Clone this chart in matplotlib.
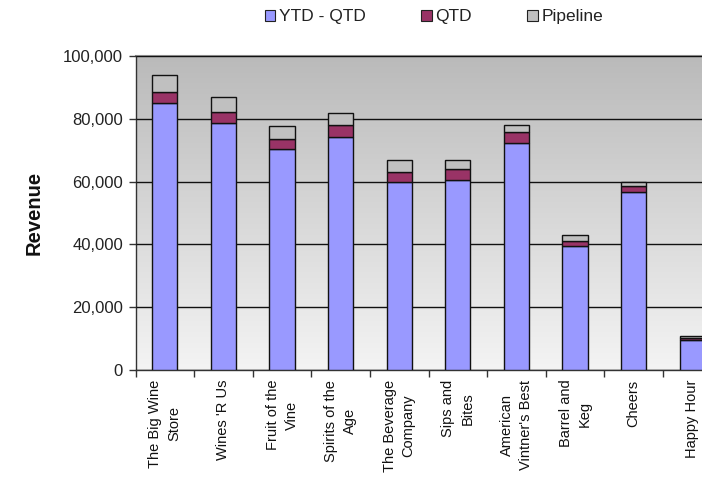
import numpy as np
import matplotlib
matplotlib.use("Agg")
import matplotlib.pyplot as plt
from matplotlib.patches import Patch

plt.rcParams['font.family'] = ['Liberation Sans', 'DejaVu Sans']

# Revenue per customer, stacked
customers = ["The Big Wine\nStore", "Wines 'R Us", "Fruit of the\nVine",
             "Spirits of the\nAge", "The Beverage\nCompany", "Sips and\nBites",
             "American\nVintner's Best", "Barrel and\nKeg", "Cheers", "Happy Hour"]
ytd_minus_qtd = [85100, 78600, 70500, 74300, 60000, 60500, 72200, 39600, 56700, 9600]
qtd = [3300, 3600, 3000, 3700, 3000, 3400, 3500, 1400, 1800, 700]
pipeline = [5500, 4600, 4200, 3900, 3900, 2900, 2300, 2000, 1500, 600]
series_names = ["YTD - QTD", "QTD", "Pipeline"]
colors = ["#9999FF", "#993366", "#C0C0C0"]
y_ticks = [0, 20000, 40000, 60000, 80000, 100000]

W, H = 702, 492
fig = plt.figure(figsize=(W / 100, H / 100), dpi=100)
left, right, top, bottom = 135.5, 721.5, 56, 370
ax = fig.add_axes([left / W, 1 - bottom / H, (right - left) / W, (bottom - top) / H])

# vertical gray gradient behind the plot
grad = np.linspace(0, 1, 256).reshape(-1, 1)
cmap = matplotlib.colors.LinearSegmentedColormap.from_list("bg", ["#f4f4f4", "#bababa"])
ax.imshow(grad, aspect="auto", cmap=cmap, extent=[0, 1, 0, 1], origin="lower",
          transform=ax.transAxes, zorder=0)

x = np.arange(len(customers))
w = 0.43
b1 = np.array(ytd_minus_qtd)
b2 = b1 + np.array(qtd)
ax.bar(x, ytd_minus_qtd, w, color=colors[0], edgecolor="#111111", linewidth=1.0, zorder=3)
ax.bar(x, qtd, w, bottom=b1, color=colors[1], edgecolor="#111111", linewidth=1.0, zorder=3)
ax.bar(x, pipeline, w, bottom=b2, color=colors[2], edgecolor="#111111", linewidth=1.0, zorder=3)

ax.set_xlim(-0.5, len(customers) - 0.5)
ax.set_ylim(0, 100000)
ax.set_yticks(y_ticks)
ax.set_yticklabels([f"{v:,}" for v in y_ticks], fontsize=12, color="#222222")
ax.yaxis.grid(True, color="#111111", linewidth=1.0, zorder=1)
ax.set_axisbelow(False)

ax.set_xticks(x)
ax.set_xticklabels(customers, rotation=90, fontsize=10.5, color="#111111",
                   ha="center", va="top", multialignment="center", linespacing=1.45)
ax.tick_params(axis="x", length=0, pad=7)
ax.set_xticks(np.arange(-0.5, len(customers), 1), minor=True)
ax.tick_params(axis="x", which="minor", length=5, width=1, color="#333333", direction="out")
ax.tick_params(axis="y", length=5, width=1, color="#333333", direction="out", pad=4)

ax.set_ylabel("Revenue", fontsize=14.5, fontweight="bold", color="#111111", labelpad=14)

for s in ["left", "bottom"]:
    ax.spines[s].set_color("#333333")
    ax.spines[s].set_linewidth(1.0)
ax.spines["top"].set_color("#888888")
ax.spines["top"].set_linewidth(1.5)
ax.spines["right"].set_visible(False)

handles = [Patch(facecolor=c, edgecolor="#222222", linewidth=0.8) for c in colors]
fig.legend(handles, series_names, loc="center", bbox_to_anchor=(434 / W, 1 - 17 / H),
           ncol=3, frameon=False, fontsize=12.5, handlelength=0.6, handleheight=0.6,
           handletextpad=0.2, columnspacing=3.2, labelcolor="#222222")

fig.savefig("out.png", dpi=100)
